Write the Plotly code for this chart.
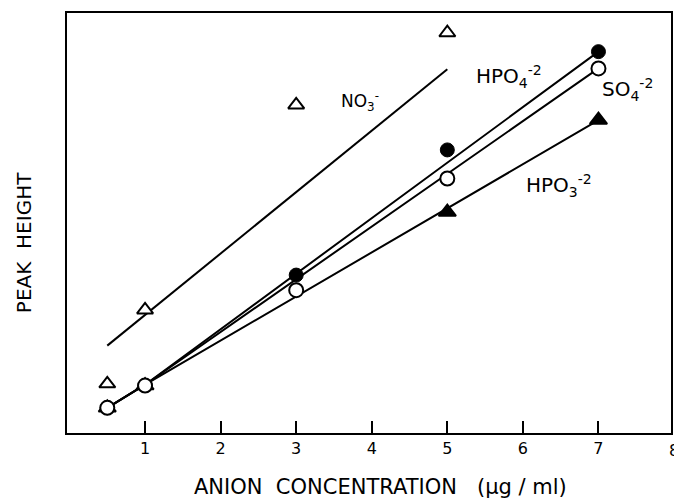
import plotly.graph_objects as go

# ---- data ----
conc_no3 = [0.5, 1, 3, 5]
peak_no3 = [11.7, 29.3, 78.1, 95.3]
fit_no3_x = [0.5, 5]
fit_no3_y = [20.8, 86.6]

conc_hpo4 = [0.5, 1, 3, 5, 7]
peak_hpo4 = [6.0, 11.3, 37.6, 67.4, 90.8]
fit_hpo4_x = [0.5, 1, 7]
fit_hpo4_y = [6.0, 11.5, 90.8]

conc_so4 = [0.5, 1, 3, 5, 7]
peak_so4 = [6.0, 11.3, 34.0, 60.6, 86.8]
fit_so4_x = [0.5, 1, 7]
fit_so4_y = [6.0, 11.5, 86.8]

conc_hpo3 = [0.5, 1, 5, 7]
peak_hpo3 = [6.0, 11.3, 52.6, 74.5]
fit_hpo3_x = [0.5, 1, 7]
fit_hpo3_y = [6.0, 11.5, 74.5]

x_ticks = [1, 2, 3, 4, 5, 6, 7]
x_last_tick = 8
x_title = "ANION  CONCENTRATION   (µg / ml)"
y_title = "PEAK  HEIGHT"

FONT = "DejaVu Sans"
LW = 2

fig = go.Figure()

for fx, fy in [(fit_no3_x, fit_no3_y), (fit_hpo4_x, fit_hpo4_y),
               (fit_so4_x, fit_so4_y), (fit_hpo3_x, fit_hpo3_y)]:
    fig.add_trace(go.Scatter(x=fx, y=fy, mode="lines",
                             line=dict(color="black", width=LW),
                             showlegend=False, hoverinfo="skip"))

fig.add_trace(go.Scatter(x=conc_no3, y=peak_no3, mode="markers",
                         marker=dict(symbol="triangle-up", size=14, color="white",
                                     line=dict(color="black", width=2)),
                         showlegend=False))
hpo3_fill = ["white", "white", "black", "black"]
fig.add_trace(go.Scatter(x=conc_hpo3, y=peak_hpo3, mode="markers",
                         marker=dict(symbol="triangle-up", size=15, color=hpo3_fill,
                                     line=dict(color="black", width=2)),
                         showlegend=False))
fig.add_trace(go.Scatter(x=conc_hpo4, y=peak_hpo4, mode="markers",
                         marker=dict(symbol="circle", size=14, color="black",
                                     line=dict(color="black", width=1)),
                         showlegend=False))
fig.add_trace(go.Scatter(x=conc_so4, y=peak_so4, mode="markers",
                         marker=dict(symbol="circle", size=14, color="white",
                                     line=dict(color="black", width=2)),
                         showlegend=False))

labels = [
    (3.56, 79.0, "NO<sub>3</sub><sup>-</sup>", 17),
    (5.35, 84.8, "HPO<sub>4</sub><sup>-2</sup>", 20),
    (7.02, 81.9, "SO<sub>4</sub><sup>-2</sup>", 20),
    (6.01, 59.0, "HPO<sub>3</sub><sup>-2</sup>", 20),
]
for lx, ly, txt, fs in labels:
    fig.add_annotation(x=lx, y=ly, xref="x", yref="y", text=txt, showarrow=False,
                       xanchor="left", yanchor="middle",
                       font=dict(family=FONT, size=fs, color="black"))

L, R, T, B = 67, 1, 13, 67
W, H = 674, 500
pw, ph = W - L - R, H - T - B
X0, X1 = -0.033, 7.96


def px_x(px):
    return (px - L) / pw


def px_y(py):
    return (H - B - py) / ph


# tick label "8" that sits at the right frame edge (outside the data range)
x8_paper = (x_last_tick - X0) / (X1 - X0)
fig.add_annotation(x=x8_paper, y=0, xref="paper", yref="paper", text=str(x_last_tick),
                   showarrow=False, xanchor="center", yanchor="top", yshift=-6,
                   font=dict(family=FONT, size=16, color="black"))

fig.add_annotation(x=px_x(382), y=px_y(487), xref="paper", yref="paper", text=x_title,
                   showarrow=False, xanchor="center", yanchor="middle",
                   font=dict(family=FONT, size=21, color="black"))
fig.add_annotation(x=px_x(24), y=px_y(243), xref="paper", yref="paper", text=y_title,
                   showarrow=False, textangle=-90, xanchor="center", yanchor="middle",
                   font=dict(family=FONT, size=20, color="black"))

fig.update_xaxes(range=[X0, X1], tickvals=x_ticks, ticktext=[str(t) for t in x_ticks],
                 ticks="inside", ticklen=12, tickwidth=2, tickcolor="black",
                 showline=True, linecolor="black", linewidth=LW, mirror=True,
                 showgrid=False, zeroline=False,
                 tickfont=dict(family=FONT, size=16, color="black"))
fig.update_yaxes(range=[0, 100], showticklabels=False, ticks="",
                 showline=True, linecolor="black", linewidth=LW, mirror=True,
                 showgrid=False, zeroline=False)

fig.update_layout(width=W, height=H, margin=dict(l=L, r=R, t=T, b=B),
                  paper_bgcolor="white", plot_bgcolor="white", showlegend=False)

fig.write_html("out.html")
